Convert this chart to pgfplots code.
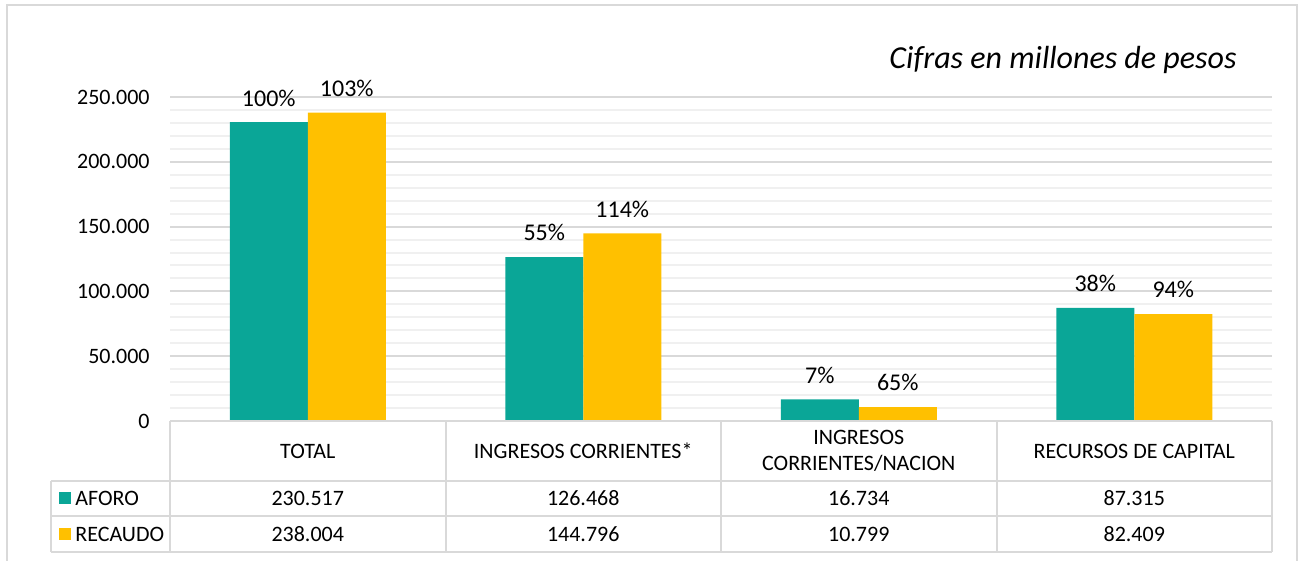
\documentclass[border=0pt]{standalone}
\usepackage{fontspec}
\setmainfont{Carlito}
\usepackage{pgfplots}
\pgfplotsset{compat=1.18}
\definecolor{aforo}{RGB}{10,166,151}
\definecolor{recaudo}{RGB}{255,192,0}
\definecolor{gridmaj}{RGB}{217,217,217}
\definecolor{gridmin}{RGB}{240,240,240}
\newcommand{\fsa}{\fontsize{11bp}{13bp}\selectfont}
\newcommand{\fsb}{\fontsize{12bp}{14bp}\selectfont}
\begin{document}
\begin{tikzpicture}
\useasboundingbox (0,0) rectangle (651.5bp,280.5bp);
\draw[gridmaj, line width=1bp] (3.5bp,-2bp) -- (3.5bp,278bp) -- (648.5bp,278bp) -- (648.5bp,-2bp);
\begin{axis}[
  at={(85bp,70bp)}, anchor=south west, scale only axis,
  width=551bp, height=162bp,
  xmin=-0.5, xmax=3.5, ymin=0, ymax=250000,
  ybar=0pt, bar width=39bp,
  axis line style={draw=none},
  xtick=\empty,
  ytick={0,50000,100000,150000,200000,250000},
  yticklabels={0,50.000,100.000,150.000,200.000,250.000},
  minor y tick num=4,
  major tick length=0pt, minor tick length=0pt,
  ymajorgrids, yminorgrids,
  major grid style={draw=gridmaj, line width=1bp},
  minor grid style={draw=gridmin, line width=1bp},
  scaled y ticks=false,
  yticklabel style={font=\fsa, inner sep=0pt, xshift=-10bp},
  point meta=explicit symbolic,
  nodes near coords,
  nodes near coords style={font=\fsb, anchor=south, yshift=4.5bp},
  clip=false,
]
\addplot[fill=aforo, draw=none] coordinates {(0,230517)[100\%] (1,126468)[55\%] (2,16734)[7\%] (3,87315)[38\%]};
\addplot[fill=recaudo, draw=none] coordinates {(0,238004)[103\%] (1,144796)[114\%] (2,10799)[65\%] (3,82409)[94\%]};
\end{axis}
\begin{scope}[draw=gridmaj, line width=1bp]
\draw (85bp,70bp) -- (636bp,70bp);
\draw (25.5bp,40bp) -- (636bp,40bp);
\draw (25.5bp,22.5bp) -- (636bp,22.5bp);
\draw (25.5bp,4.5bp) -- (636bp,4.5bp);
\draw (25.5bp,4.5bp) -- (25.5bp,40bp);
\foreach \x in {85,222.75,360.5,498.25,636} \draw (\x bp,4.5bp) -- (\x bp,70bp);
\end{scope}
\node[font=\fsa] at (153.875bp,55bp) {TOTAL};
\node[font=\fsa] at (291.625bp,55bp) {INGRESOS CORRIENTES*};
\node[font=\fsa, align=center] at (429.375bp,55bp) {INGRESOS\\CORRIENTES/NACION};
\node[font=\fsa] at (567.125bp,55bp) {RECURSOS DE CAPITAL};
\fill[aforo] (29.5bp,28.25bp) rectangle (35.5bp,34.25bp);
\fill[recaudo] (29.5bp,10.5bp) rectangle (35.5bp,16.5bp);
\node[font=\fsa, anchor=west, inner sep=0pt] at (37.5bp,31.25bp) {AFORO};
\node[font=\fsa, anchor=west, inner sep=0pt] at (37.5bp,13.5bp) {RECAUDO};
\node[font=\fsa] at (153.875bp,31.25bp) {230.517};
\node[font=\fsa] at (291.625bp,31.25bp) {126.468};
\node[font=\fsa] at (429.375bp,31.25bp) {16.734};
\node[font=\fsa] at (567.125bp,31.25bp) {87.315};
\node[font=\fsa] at (153.875bp,13.5bp) {238.004};
\node[font=\fsa] at (291.625bp,13.5bp) {144.796};
\node[font=\fsa] at (429.375bp,13.5bp) {10.799};
\node[font=\fsa] at (567.125bp,13.5bp) {82.409};
\node[font=\fontsize{16bp}{19bp}\selectfont\itshape, anchor=east, inner sep=0pt] at (618.5bp,250.5bp) {Cifras en millones de pesos};
\end{tikzpicture}
\end{document}
